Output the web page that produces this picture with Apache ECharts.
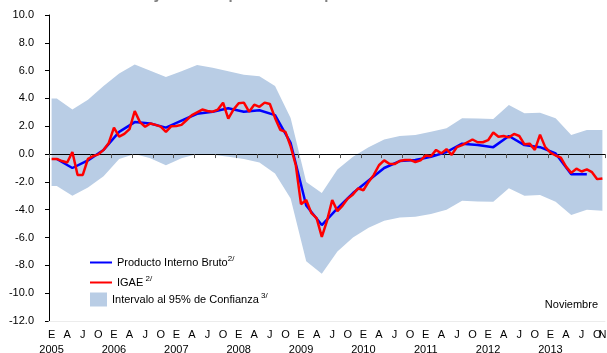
<!DOCTYPE html>
<html>
<head>
<meta charset="utf-8">
<script src="https://cdn.jsdelivr.net/npm/echarts@6/dist/echarts.min.js"></script>
<style>
  html, body { margin: 0; padding: 0; background: #ffffff; }
  #chart { width: 607px; height: 353px; }
</style>
</head>
<body>
<div id="chart"></div>
<script>
// Monthly axis: January 2005 to November 2013
const firstYear = 2005;
const monthCount = 107;
const monthInitials = ['E', 'F', 'M', 'A', 'M', 'J', 'J', 'A', 'S', 'O', 'N', 'D'];

// Output gap from GDP, quarterly (2005 Q1 .. 2013 Q3), plotted at the middle month of each quarter
const pibGap = [
  -0.35, -1.0, -0.45, 0.3,
  1.6, 2.3, 2.2, 1.9,
  2.4, 2.9, 3.05, 3.3,
  3.05, 3.15, 2.8, 0.8,
  -3.7, -5.1, -3.9, -2.8,
  -1.9, -1.0, -0.5, -0.43,
  -0.2, 0.15, 0.75, 0.65,
  0.5, 1.3, 0.65, 0.5,
  0.05, -1.45, -1.45
];

// Output gap from IGAE, monthly (Jan 2005 .. Nov 2013)
const igaeGap = [
  -0.35, -0.35, -0.5, -0.6, 0.15, -1.5, -1.5, -0.35, -0.15, -0.02, 0.3, 0.8,
  1.9, 1.25, 1.45, 1.8, 3.1, 2.3, 1.97, 2.2, 2.1, 1.97, 1.6, 2.0,
  2.02, 2.1, 2.45, 2.8, 3.0, 3.2, 3.1, 3.05, 3.2, 3.7, 2.55, 3.2,
  3.65, 3.7, 3.05, 3.55, 3.4, 3.7, 3.6, 2.6, 1.75, 1.6, 0.55, -0.8,
  -3.6, -3.3, -4.25, -4.6, -5.95, -4.8, -3.3, -4.1, -3.7, -3.2, -2.9, -2.46,
  -2.6, -2.0, -1.5, -0.8, -0.45, -0.7, -0.72, -0.5, -0.42, -0.42, -0.57, -0.45,
  -0.1, -0.15, 0.3, 0.05, 0.35, -0.05, 0.5, 0.65, 0.85, 1.05, 0.85, 0.85,
  1.0, 1.55, 1.25, 1.3, 1.2, 1.45, 1.3, 0.7, 0.75, 0.3, 1.4, 0.5,
  0.1, -0.1, -0.25, -0.9, -1.35, -1.05, -1.25, -1.1, -1.3, -1.8, -1.75
];

// 95% confidence interval, quarterly (2005 Q1 .. 2013 Q4)
const bandLower = [
  -2.3, -3.0, -2.4, -1.6,
  -0.35, 0.0, -0.3, -0.8,
  -0.3, 0.0, -0.05, -0.2,
  -0.35, -0.6, -1.4, -3.2,
  -7.7, -8.6, -7.0, -6.0,
  -5.3, -4.8, -4.55, -4.5,
  -4.3, -4.0, -3.35, -3.4,
  -3.42, -2.46, -3.0, -2.94,
  -3.42, -4.38, -4.0, -4.07
];
const bandUpper = [
  4.0, 3.2, 3.9, 4.9,
  5.8, 6.45, 6.0, 5.55,
  5.95, 6.4, 6.2, 5.95,
  5.7, 5.6, 4.9, 2.6,
  -2.0, -2.8, -1.1, -0.2,
  0.5, 1.05, 1.3, 1.37,
  1.6, 1.85, 2.57, 2.55,
  2.52, 3.53, 2.93, 2.98,
  2.57, 1.37, 1.73, 1.73
];

// y-axis range and tick step
const yMin = -12, yMax = 10, yStep = 2;

const legendNames = {
  pib: 'Producto Interno Bruto',
  igae: 'IGAE',
  band: 'Intervalo al 95% de Confianza'
};

// Category labels: one per month
const months = [];
for (let i = 0; i < monthCount; i++) {
  const y = firstYear + Math.floor(i / 12);
  const mo = i % 12 + 1;
  months.push(y + '-' + (mo < 10 ? '0' + mo : mo));
}

// Middle month of quarter k
const midMonth = k => 3 * k + 1;

const pibPoints = pibGap.map((v, k) => [midMonth(k), v]);
// Band rows [month, lower, upper]; the band opens at the first month with the first quarter's bounds
const bandRows = [[0, bandLower[0], bandUpper[0]]].concat(
  bandLower.map((v, k) => [midMonth(k), v, bandUpper[k]])
);

const font = '"Liberation Sans", Arial, sans-serif';
const bandColor = '#b9cde5';

const chart = echarts.init(document.getElementById('chart'), null, { renderer: 'canvas' });

const supRich = {
  s: { fontSize: 8, fontFamily: font, color: '#000', padding: [0, 0, 7, 0] }
};

// Shaded interval: one polygon through the upper bounds and back along the lower bounds
function renderBand(params, api) {
  if (params.dataIndex !== 0) return null;
  const top = bandRows.map(r => api.coord([r[0], r[2]]));
  const bottom = bandRows.map(r => api.coord([r[0], r[1]])).reverse();
  return {
    type: 'polygon',
    shape: { points: top.concat(bottom) },
    style: { fill: bandColor, stroke: null }
  };
}

const lineIcon = 'path://M0,0 H22 V2 H0 Z';

chart.setOption({
  animation: false,
  backgroundColor: '#ffffff',
  grid: { left: 49, right: 2, top: 15, bottom: 32, containLabel: false, outerBoundsMode: 'none' },
  graphic: [
    {
      type: 'text',
      left: 63,
      top: -21,
      style: {
        text: 'Porcentajes del producto potencial, a.e.',
        font: '23px ' + font,
        fill: '#808080'
      },
      silent: true
    },
    {
      type: 'text',
      right: 9,
      top: 299,
      style: {
        text: 'Noviembre',
        font: '11px ' + font,
        fill: '#000'
      },
      silent: true
    }
  ],
  legend: [
    {
      data: [{ name: legendNames.pib, icon: lineIcon }],
      left: 90, top: 255, padding: 0,
      itemWidth: 22, itemHeight: 2,
      selectedMode: false,
      formatter: n => n + '{s|2/}',
      textStyle: { fontSize: 11, fontFamily: font, color: '#000', rich: supRich }
    },
    {
      data: [{ name: legendNames.igae, icon: lineIcon }],
      left: 90, top: 275, padding: 0,
      itemWidth: 22, itemHeight: 2,
      selectedMode: false,
      formatter: n => n + '{s| 2/}',
      textStyle: { fontSize: 11, fontFamily: font, color: '#000', rich: supRich }
    },
    {
      data: [{ name: legendNames.band, icon: 'rect' }],
      left: 90, top: 292, padding: 0,
      itemWidth: 17, itemHeight: 14,
      selectedMode: false,
      formatter: n => n + '{s| 3/}',
      textStyle: { fontSize: 11, fontFamily: font, color: '#000', rich: supRich }
    }
  ],
  xAxis: [
    {
      // zero line with ticks every four months
      type: 'category',
      data: months,
      boundaryGap: true,
      position: 'bottom',
      z: 2,
      axisLine: { show: true, onZero: true, lineStyle: { color: '#000', width: 1 } },
      axisTick: { show: true, interval: 3, length: 4, lineStyle: { color: '#555' } },
      axisLabel: { show: false },
      splitLine: { show: false }
    },
    {
      // bottom axis carrying month initials and years
      type: 'category',
      data: months,
      boundaryGap: true,
      position: 'bottom',
      z: 2,
      axisLine: { show: true, onZero: false, lineStyle: { color: '#ececec', width: 1 } },
      axisTick: { show: false },
      splitLine: { show: false },
      axisLabel: {
        show: true,
        interval: 0,
        margin: 6,
        fontSize: 11,
        lineHeight: 15,
        fontFamily: font,
        color: '#000',
        formatter: (val, idx) => {
          const mo = idx % 12;
          if (idx === monthCount - 1) return monthInitials[mo];
          if (mo % 3 !== 0) return '';
          if (mo === 0) return monthInitials[mo] + '\n' + (firstYear + idx / 12);
          return monthInitials[mo];
        }
      }
    }
  ],
  yAxis: {
    type: 'value',
    min: yMin,
    max: yMax,
    interval: yStep,
    axisLine: { show: true, lineStyle: { color: '#000', width: 1 } },
    axisTick: { show: true, length: 4, lineStyle: { color: '#000' } },
    splitLine: { show: false },
    axisLabel: {
      margin: 15,
      fontSize: 11,
      fontFamily: font,
      color: '#000',
      formatter: v => v.toFixed(1)
    }
  },
  series: [
    {
      name: legendNames.band,
      type: 'custom',
      data: bandRows,
      encode: { x: 0, y: [1, 2] },
      renderItem: renderBand,
      silent: true,
      z: 1,
      itemStyle: { color: bandColor }
    },
    {
      name: legendNames.pib,
      type: 'line',
      data: pibPoints,
      symbol: 'none',
      z: 3,
      itemStyle: { color: '#0000ff' },
      lineStyle: { color: '#0000ff', width: 2.5 }
    },
    {
      name: legendNames.igae,
      type: 'line',
      data: igaeGap,
      symbol: 'none',
      z: 4,
      itemStyle: { color: '#ff0000' },
      lineStyle: { color: '#ff0000', width: 2.5 }
    }
  ]
});
</script>
</body>
</html>
